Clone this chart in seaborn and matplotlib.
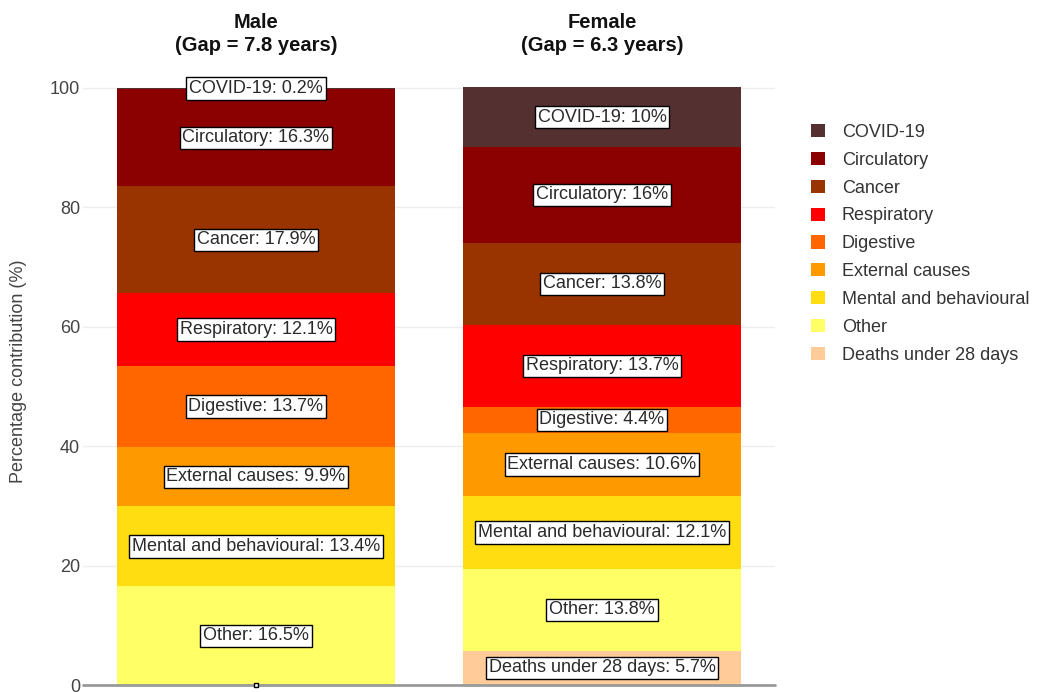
import numpy as np
import pandas as pd
import matplotlib
matplotlib.use("Agg")
import matplotlib.pyplot as plt
import seaborn as sns

# Causes of death, stacked from the bottom of each bar to the top
causes = ["Deaths under 28 days", "Other", "Mental and behavioural",
          "External causes", "Digestive", "Respiratory", "Cancer",
          "Circulatory", "COVID-19"]
colors = ["#FFCC99", "#FFFF66", "#FFDD11", "#FF9900", "#FF6600",
          "#FF0000", "#993300", "#8B0000", "#553030"]

sexes = ["Male", "Female"]
gaps = [7.8, 6.3]

male_pct = [0.0, 16.5, 13.4, 9.9, 13.7, 12.1, 17.9, 16.3, 0.2]
female_pct = [5.7, 13.8, 12.1, 10.6, 4.4, 13.7, 13.8, 16.0, 10.0]

sns.set_theme(style="white")
plt.rcParams["font.family"] = ["Liberation Sans", "DejaVu Sans"]

rows = []
for sex, vals in zip(sexes, [male_pct, female_pct]):
    cum = 0.0
    for cause, v in zip(causes, vals):
        rows.append(dict(sex=sex, cause=cause, value=v, bottom=cum, top=cum + v))
        cum += v
df = pd.DataFrame(rows)

W, H = 1038, 692
fig = plt.figure(figsize=(W / 100, H / 100), dpi=100)
ax_top_px = 70
ax = fig.add_axes([83 / W, 1 - 685 / H, 692 / W, (685 - ax_top_px) / H])

# Draw cumulative tops from the highest layer down so each layer shows its own band
for cause, col in reversed(list(zip(causes, colors))):
    sub = df[df["cause"] == cause]
    sns.barplot(data=sub, x="sex", y="top", order=sexes, color=col,
                width=0.805, linewidth=0, saturation=1, ax=ax, zorder=2)

ax.set_ylim(0, 103)
ax.set_xlim(-0.5, 1.5)
ax.set_yticks([0, 20, 40, 60, 80, 100])
ax.tick_params(axis="y", labelsize=13, labelcolor="#444444", length=0, pad=2)
ax.set_xticks([])
ax.set_xlabel("")
ax.set_ylabel("Percentage contribution (%)", fontsize=13, color="#444444")
ax.yaxis.set_label_coords(-(83 - 27) / 692, (685 - 371) / 615)
ax.yaxis.grid(True, color="#EEEEEE", linewidth=1, zorder=0)
ax.set_axisbelow(True)
for s in ["top", "right", "left", "bottom"]:
    ax.spines[s].set_visible(False)
ax.axhline(0, color="#999999", linewidth=2, zorder=3, clip_on=False)

# Panel titles above each bar
title_bottom = (685 - 55) / 615
for i, (sex, gap) in enumerate(zip(sexes, gaps)):
    ax.text(i, title_bottom, f"{sex}\n(Gap = {gap} years)",
            transform=ax.get_xaxis_transform(),
            ha="center", va="bottom", fontsize=14.5, fontweight="bold",
            color="#111111", linespacing=1.3, clip_on=False)

# Value labels in white boxes at the middle of each band
for _, r in df.iterrows():
    xi = sexes.index(r["sex"])
    ymid = r["bottom"] + r["value"] / 2
    v = r["value"]
    if v == 0:
        ax.text(xi, ymid, " ", ha="center", va="center", fontsize=1,
                zorder=5, clip_on=False,
                bbox=dict(boxstyle="square,pad=1.2", facecolor="white",
                          edgecolor="black", linewidth=1))
        continue
    ax.text(xi, ymid, f"{r['cause']}: {v:g}%", ha="center", va="center",
            fontsize=13, color="#2A2A2A", zorder=5, clip_on=False,
            bbox=dict(boxstyle="square,pad=0.15", facecolor="white",
                      edgecolor="black", linewidth=1))

# Legend
handles = [plt.Rectangle((0, 0), 1, 1, facecolor=c, edgecolor="none")
           for c in reversed(colors)]
leg = fig.legend(handles, list(reversed(causes)), loc="upper left",
                 bbox_to_anchor=(811 / W, 1 - 124 / H), frameon=False,
                 fontsize=13, handlelength=0.75, handleheight=0.75,
                 handletextpad=0.95, labelspacing=0.6, borderaxespad=0,
                 borderpad=0)
for t in leg.get_texts():
    t.set_color("#333333")

fig.savefig("out.png", dpi=100, facecolor="white")
